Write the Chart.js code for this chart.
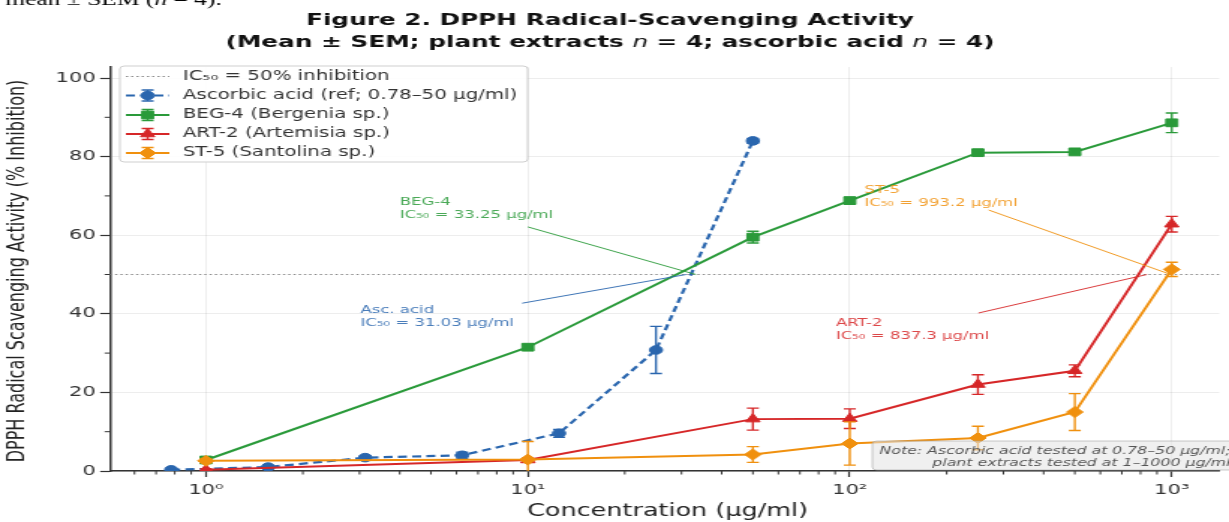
<!DOCTYPE html>
<html><head><meta charset="utf-8">
<script src="https://cdn.jsdelivr.net/npm/chart.js@4.4.1/dist/chart.umd.min.js"></script>
<style>
html,body{margin:0;padding:0;background:#fff;overflow:hidden;width:1229px;height:522px;}
#wrap{width:820px;height:522px;transform:scaleX(1.49878);transform-origin:0 0;}
canvas{display:block;}
</style></head><body>
<div id="wrap"><canvas id="c" width="820" height="522"></canvas></div>
<script>
// ---------------- data ----------------
const CONC_ASC = [0.78, 1.56, 3.125, 6.25, 12.5, 25, 50];
const ASC_MEAN = [0.3, 1.0, 3.4, 4.0, 9.6, 30.8, 84.0];
const ASC_SEM  = [0.3, 0.3, 0.5, 0.8, 1.0, 6.0, 0.6];

const CONC_EXT = [1, 10, 50, 100, 250, 500, 1000];
const BEG_MEAN = [2.8, 31.5, 59.5, 68.8, 81.0, 81.2, 88.6];
const BEG_SEM  = [0.5, 0.6, 1.5, 0.8, 0.6, 0.6, 2.5];
const ART_MEAN = [0.3, 2.8, 13.2, 13.3, 22.0, 25.5, 62.8];
const ART_SEM  = [0.3, 0.5, 2.8, 2.5, 2.5, 1.5, 2.0];
const ST_MEAN  = [2.6, 2.9, 4.2, 7.0, 8.4, 15.0, 51.3];
const ST_SEM   = [0.5, 4.6, 2.0, 5.5, 3.0, 4.7, 1.8];

const SERIES_NAMES = ['Ascorbic acid (ref; 0.78–50 µg/ml)', 'BEG-4 (Bergenia sp.)', 'ART-2 (Artemisia sp.)', 'ST-5 (Santolina sp.)'];
const IC50_LEGEND = 'IC₅₀ = 50% inhibition';
const IC50_LEVEL = 50;
const IC50_NAMES  = ['BEG-4', 'Asc. acid', 'ST-5', 'ART-2'];
const IC50_VALUES = [33.25, 31.03, 993.2, 837.3];

const X_TICKS = [1, 10, 100, 1000];
const X_TICK_LABELS = ['10⁰', '10¹', '10²', '10³'];
const Y_TICKS = [0, 20, 40, 60, 80, 100];
const Y_MINOR = [10, 30, 50, 70, 90];

const TITLE_1 = 'Figure 2. DPPH Radical-Scavenging Activity';
const TITLE_2 = [['(Mean ± SEM; plant extracts ', false], ['n', true], [' = 4; ascorbic acid ', false], ['n', true], [' = 4)', false]];
const X_LABEL = 'Concentration (µg/ml)';
const Y_LABEL = 'DPPH Radical Scavenging Activity (% Inhibition)';
const NOTE_LINES = ['Note: Ascorbic acid tested at 0.78–50 µg/ml;', 'plant extracts tested at 1–1000 µg/ml'];
const CAPTION_TOP = [['mean ± SEM (', false], ['n', true], [' = 4).', false]];

// ---------------- styles / layout ----------------
const COLORS = { asc: '#2a66ae', beg: '#2a9a3a', art: '#d62728', st: '#f0900e' };
const SERIES_COLORS = [COLORS.asc, COLORS.beg, COLORS.art, COLORS.st];
const SERIES_MARKERS = ['circle', 'rect', 'triangle', 'rectRot'];
const SERIES_RADII = [4.3, 5.5, 5.5, 5.5];
const ANNOT_COLORS = [COLORS.beg, COLORS.asc, COLORS.st, COLORS.art];
// annotation text anchor (data coords, first line) and arrow start (data coords)
const ANNOT_TEXT_AT = [[4.0, 68.5], [3.02, 41.0], [111, 71.5], [90.5, 37.7]];
const ANNOT_ARROW_FROM = [[10.0, 62.1], [9.6, 42.7], [270, 66.4], [251, 40.2]];

const FONT = 'DejaVu Sans';
const pts = (xs, ys) => xs.map((x, i) => ({ x: x, y: ys[i] }));

function mk(i, xs, ys, sem, extra) {
  return Object.assign({
    label: SERIES_NAMES[i], data: pts(xs, ys), sem: sem,
    borderColor: SERIES_COLORS[i], backgroundColor: SERIES_COLORS[i],
    pointBackgroundColor: SERIES_COLORS[i], pointBorderColor: SERIES_COLORS[i],
    pointStyle: SERIES_MARKERS[i], pointRadius: SERIES_RADII[i], pointBorderWidth: 1,
    borderWidth: 2, tension: 0, fill: false, order: 4 - i
  }, extra || {});
}

function marker(ctx, style, x, y, r, color) {
  ctx.save();
  ctx.fillStyle = color; ctx.strokeStyle = color; ctx.lineWidth = 1; ctx.setLineDash([]);
  ctx.beginPath();
  if (style === 'circle') ctx.arc(x, y, r, 0, Math.PI * 2);
  else if (style === 'rect') { const s = r * Math.SQRT1_2; ctx.rect(x - s, y - s, 2 * s, 2 * s); }
  else if (style === 'triangle') {
    let a = 0;
    ctx.moveTo(x + Math.sin(a) * r, y - Math.cos(a) * r); a += 2 * Math.PI / 3;
    ctx.lineTo(x + Math.sin(a) * r, y - Math.cos(a) * r); a += 2 * Math.PI / 3;
    ctx.lineTo(x + Math.sin(a) * r, y - Math.cos(a) * r); ctx.closePath();
  } else { ctx.moveTo(x - r, y); ctx.lineTo(x, y - r); ctx.lineTo(x + r, y); ctx.lineTo(x, y + r); ctx.closePath(); }
  ctx.fill(); ctx.stroke();
  ctx.restore();
}

function segText(ctx, segs, x, y, size, bold, align, family) {
  const fam = family || FONT;
  const f = (it) => (it ? 'italic ' : '') + (bold && !it ? 'bold ' : '') + size + 'px "' + fam + '"';
  let total = 0;
  segs.forEach(s => { ctx.font = f(s[1]); total += ctx.measureText(s[0]).width; });
  let cx = align === 'center' ? x - total / 2 : (align === 'right' ? x - total : x);
  ctx.textAlign = 'left';
  segs.forEach(s => { ctx.font = f(s[1]); ctx.fillText(s[0], cx, y); cx += ctx.measureText(s[0]).width; });
}

const errorBars = {
  id: 'errorBars',
  afterDatasetDraw(chart, args) {
    const ds = chart.data.datasets[args.index];
    if (!ds.sem) return;
    const ctx = chart.ctx, xs = chart.scales.x, ys = chart.scales.y, a = chart.chartArea;
    ctx.save();
    ctx.beginPath(); ctx.rect(a.left, a.top, a.right - a.left, a.bottom - a.top); ctx.clip();
    ctx.strokeStyle = ds.borderColor; ctx.lineWidth = 1.4; ctx.setLineDash([]);
    ds.data.forEach((p, i) => {
      const s = ds.sem[i];
      const x = xs.getPixelForValue(p.x);
      const y1 = ys.getPixelForValue(p.y - s), y2 = ys.getPixelForValue(p.y + s);
      ctx.beginPath();
      ctx.moveTo(x, y1); ctx.lineTo(x, y2);
      ctx.moveTo(x - 4, y1); ctx.lineTo(x + 4, y1);
      ctx.moveTo(x - 4, y2); ctx.lineTo(x + 4, y2);
      ctx.stroke();
    });
    ctx.restore();
  }
};

const decor = {
  id: 'decor',
  beforeDatasetsDraw(chart) {
    const ctx = chart.ctx, a = chart.chartArea, y = chart.scales.y.getPixelForValue(IC50_LEVEL);
    ctx.save();
    ctx.strokeStyle = '#8a8a8a'; ctx.lineWidth = 1; ctx.setLineDash([1.5, 2]);
    ctx.beginPath(); ctx.moveTo(a.left, y); ctx.lineTo(a.right, y); ctx.stroke();
    ctx.restore();
  },
  afterDraw(chart) {
    const ctx = chart.ctx, a = chart.chartArea, xs = chart.scales.x, ys = chart.scales.y;
    ctx.save();
    // minor ticks
    ctx.strokeStyle = '#333'; ctx.lineWidth = 1; ctx.setLineDash([]);
    const minorX = [];
    [0.1, 1, 10, 100].forEach(d => { for (let k = 2; k <= 9; k++) minorX.push(k * d); });
    ctx.beginPath();
    minorX.forEach(v => {
      if (v < xs.min || v > xs.max) return;
      const x = xs.getPixelForValue(v);
      ctx.moveTo(x, a.bottom); ctx.lineTo(x, a.bottom + 3.5);
    });
    Y_MINOR.forEach(v => {
      const y = ys.getPixelForValue(v);
      ctx.moveTo(a.left - 3.5, y); ctx.lineTo(a.left, y);
    });
    ctx.stroke();

    // annotations
    ctx.textBaseline = 'middle';
    IC50_NAMES.forEach((n, i) => {
      const col = ANNOT_COLORS[i];
      const tx = xs.getPixelForValue(ANNOT_TEXT_AT[i][0]), ty = ys.getPixelForValue(ANNOT_TEXT_AT[i][1]);
      ctx.globalAlpha = 0.85;
      ctx.fillStyle = col; ctx.font = '11px "' + FONT + '"'; ctx.textAlign = 'left';
      ctx.fillText(n, tx, ty);
      ctx.fillText('IC₅₀ = ' + IC50_VALUES[i] + ' µg/ml', tx, ty + 13);
      ctx.globalAlpha = 0.9;
      ctx.strokeStyle = col; ctx.lineWidth = 1;
      ctx.beginPath();
      ctx.moveTo(xs.getPixelForValue(ANNOT_ARROW_FROM[i][0]), ys.getPixelForValue(ANNOT_ARROW_FROM[i][1]));
      ctx.lineTo(xs.getPixelForValue(IC50_VALUES[i]), ys.getPixelForValue(IC50_LEVEL));
      ctx.stroke();
      ctx.globalAlpha = 1;
    });

    // note box
    ctx.fillStyle = 'rgba(228,228,228,0.55)'; ctx.strokeStyle = 'rgba(160,160,160,0.7)'; ctx.lineWidth = 0.8;
    ctx.beginPath();
    if (ctx.roundRect) ctx.roundRect(582, 441, 260, 29, 3); else ctx.rect(582, 441, 260, 29);
    ctx.fill(); ctx.stroke();
    ctx.fillStyle = '#555'; ctx.font = 'italic 10.5px "' + FONT + '"'; ctx.textAlign = 'right';
    ctx.fillText(NOTE_LINES[0], 821, 451.5);
    ctx.fillText(NOTE_LINES[1], 821, 463);

    // legend
    const L = { x: 80, y: 66, w: 272, h: 96 };
    ctx.fillStyle = 'rgba(255,255,255,0.85)'; ctx.strokeStyle = '#cfcfcf'; ctx.lineWidth = 1;
    ctx.beginPath();
    if (ctx.roundRect) ctx.roundRect(L.x, L.y, L.w, L.h, 3); else ctx.rect(L.x, L.y, L.w, L.h);
    ctx.fill(); ctx.stroke();
    const rows = [76.5, 95.5, 115, 134, 153];
    const h0 = 84, h1 = 113, hc = (h0 + h1) / 2;
    ctx.strokeStyle = '#8a8a8a'; ctx.setLineDash([1.5, 2]);
    ctx.beginPath(); ctx.moveTo(h0, rows[0]); ctx.lineTo(h1, rows[0]); ctx.stroke();
    ctx.setLineDash([]);
    for (let i = 0; i < 4; i++) {
      const y = rows[i + 1], col = SERIES_COLORS[i];
      ctx.strokeStyle = col; ctx.lineWidth = i === 0 ? 2.2 : 2;
      ctx.setLineDash(i === 0 ? [6, 3.5] : []);
      ctx.beginPath(); ctx.moveTo(h0, y); ctx.lineTo(h1, y); ctx.stroke();
      ctx.setLineDash([]); ctx.lineWidth = 1.4;
      ctx.beginPath();
      ctx.moveTo(hc, y - 5.5); ctx.lineTo(hc, y + 5.5);
      ctx.moveTo(hc - 4, y - 5.5); ctx.lineTo(hc + 4, y - 5.5);
      ctx.moveTo(hc - 4, y + 5.5); ctx.lineTo(hc + 4, y + 5.5);
      ctx.stroke();
      marker(ctx, SERIES_MARKERS[i], hc, y, SERIES_RADII[i], col);
    }
    ctx.fillStyle = '#333'; ctx.font = '13.2px "' + FONT + '"'; ctx.textAlign = 'left'; ctx.textBaseline = 'middle';
    ctx.fillText(IC50_LEGEND, 122, rows[0]);
    SERIES_NAMES.forEach((n, i) => ctx.fillText(n, 122, rows[i + 1]));

    // titles
    ctx.fillStyle = '#111'; ctx.textBaseline = 'middle';
    ctx.font = 'bold 16.5px "' + FONT + '"'; ctx.textAlign = 'center';
    ctx.fillText(TITLE_1, 407, 21);
    segText(ctx, TITLE_2, 407, 43, 16.5, true, 'center');

    // axis titles
    ctx.fillStyle = '#222'; ctx.font = '17px "' + FONT + '"'; ctx.textAlign = 'center';
    ctx.fillText(X_LABEL, (a.left + a.right) / 2 + 2, 512);
    ctx.save();
    ctx.translate(12, (a.top + a.bottom) / 2 + 2); ctx.rotate(-Math.PI / 2);
    ctx.font = '16px "' + FONT + '"';
    ctx.fillText(Y_LABEL, 0, 0);
    ctx.restore();

    // cropped caption from page above
    ctx.fillStyle = '#000'; ctx.textBaseline = 'alphabetic';
    segText(ctx, CAPTION_TOP, 148, 5, 17, false, 'right', 'Liberation Serif');
    ctx.restore();
  }
};

new Chart(document.getElementById('c'), {
  type: 'line',
  data: {
    datasets: [
      mk(0, CONC_ASC, ASC_MEAN, ASC_SEM, { borderWidth: 2.2, borderDash: [6, 3.5] }),
      mk(1, CONC_EXT, BEG_MEAN, BEG_SEM),
      mk(2, CONC_EXT, ART_MEAN, ART_SEM),
      mk(3, CONC_EXT, ST_MEAN, ST_SEM)
    ]
  },
  options: {
    responsive: false, animation: false, devicePixelRatio: 1,
    layout: { padding: { top: 67, left: 0, right: 0, bottom: 0 } },
    plugins: { legend: { display: false }, tooltip: { enabled: false }, title: { display: false } },
    scales: {
      x: {
        type: 'logarithmic', min: 0.503, max: 1405,
        afterBuildTicks: s => { s.ticks = X_TICKS.map(v => ({ value: v, major: true })); },
        afterFit: s => { s.height = 51; s.paddingLeft = 0; s.paddingRight = 0; },
        ticks: {
          autoSkip: false, maxRotation: 0, padding: 5, color: '#333',
          font: { family: FONT, size: 14 },
          callback: (v) => { const i = X_TICKS.indexOf(v); return i >= 0 ? X_TICK_LABELS[i] : ''; }
        },
        grid: { color: 'rgba(0,0,0,0.07)', lineWidth: 1, tickColor: '#333', tickLength: 6, tickWidth: 1.2 },
        border: { display: true, color: '#333', width: 1.5 }
      },
      y: {
        type: 'linear', min: 0, max: 102.8,
        afterBuildTicks: s => { s.ticks = Y_TICKS.map(v => ({ value: v })); },
        afterFit: s => { s.width = 73.3; s.paddingTop = 0; s.paddingBottom = 0; },
        ticks: { padding: 3, color: '#333', font: { family: FONT, size: 14 }, callback: v => String(v) },
        grid: { color: 'rgba(0,0,0,0.07)', lineWidth: 1, tickColor: '#333', tickLength: 6.5, tickWidth: 1.2 },
        border: { display: true, color: '#333', width: 1.5 }
      }
    }
  },
  plugins: [errorBars, decor]
});
</script></body></html>
